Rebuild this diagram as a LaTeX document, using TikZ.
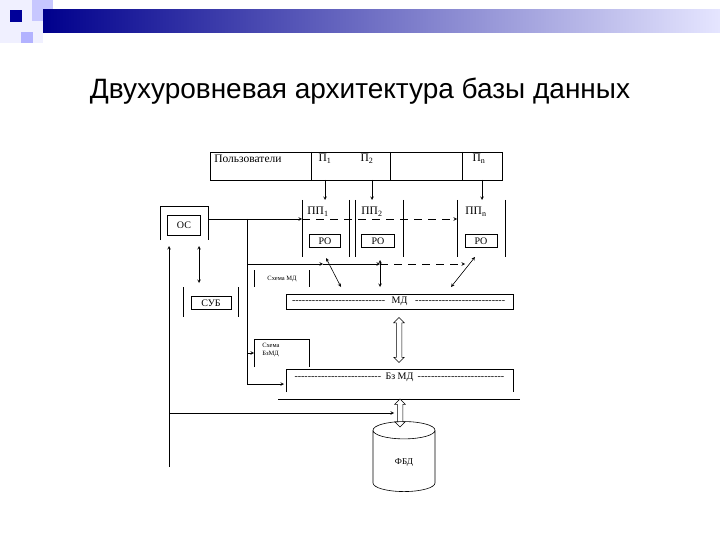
\documentclass[tikz,border=0pt]{standalone}
\usepackage{fontspec}
\setmainfont{Liberation Serif}
\newfontfamily\titlefont{Liberation Sans}
\usetikzlibrary{shapes.geometric,shapes.arrows,calc}
\newcommand{\hyphenfill}{\leaders\hbox{-}\hfill}
\tikzstyle{box} = [rectangle, draw=black, inner sep=0pt, font=\fontsize{10}{12}\selectfont]
\tikzstyle{txt} = [inner sep=0pt, font=\fontsize{11.5}{13}\selectfont]
\tikzstyle{tiny} = [inner sep=0pt, font=\fontsize{6.5}{7.5}\selectfont, align=left]
\tikzstyle{arrow} = [->,>=stealth]
\tikzstyle{dblarrow} = [<->,>=stealth]
\tikzstyle{longdash} = [dash pattern=on 8pt off 6pt]
\tikzstyle{hollow} = [double arrow, draw=black, fill=white, line width=0.5pt, rotate=90, inner sep=2.5pt, double arrow head extend=2.5pt]

\begin{document}
\begin{tikzpicture}[x=1pt,y=-1pt,line width=0.6pt]
  \useasboundingbox (0,0) rectangle (720,540);
  % slide header
  \fill[blue!6!white] (0,0) rectangle (43,43);
  \fill[blue!22!white] (32,0) rectangle (53,21);
  \fill[blue!30!white] (21,32) rectangle (33,43);
  \fill[blue!60!black] (10,10) rectangle (22,22);
  \shade[left color=blue!55!black, right color=blue!10!white] (43,10) rectangle (720,33);
  \node (title)[font=\titlefont\fontsize{28}{33}\selectfont] at (360,91) {Двухуровневая архитектура базы данных};

  % users
  \node (users)[box, minimum width=292, minimum height=28] at (356,166) {};
  \draw (311,152) -- (311,180);
  \draw (390,152) -- (390,180);
  \draw (462,152) -- (462,180);
  \node (uname)[txt, anchor=west] at (214,159) {Пользователи};
  \node (u1)[txt] at (325,159) {П\textsubscript{1}};
  \node (u2)[txt] at (367,159) {П\textsubscript{2}};
  \node (un)[txt] at (479,159) {П\textsubscript{n}};

  % applications
  \foreach \x in {302,349,355,403,457,505}
    \draw (\x,200) -- (\x,257);
  \node (pp1)[txt] at (318,212) {ПП\textsubscript{1}};
  \node (pp2)[txt] at (372,212) {ПП\textsubscript{2}};
  \node (ppn)[txt] at (476,212) {ПП\textsubscript{n}};
  \node (ro1)[box, minimum width=31, minimum height=13] at (325,241) {РО};
  \node (ro2)[box, minimum width=33, minimum height=13] at (378,241) {РО};
  \node (ron)[box, minimum width=32, minimum height=13] at (481,241) {РО};
  \coordinate (t1) at (325,180);
  \coordinate (t2) at (372,180);
  \coordinate (tn) at (482,180);
  \coordinate (a1) at (325,200);
  \coordinate (a2) at (372,200);
  \coordinate (an) at (482,200);
  \draw [arrow] (t1) -- (a1);
  \draw [arrow] (t2) -- (a2);
  \draw [arrow] (tn) -- (an);

  % OS and DBMS
  \draw (160,240) -- (160,206) -- (208,206) -- (208,240);
  \node (os)[box, minimum width=33, minimum height=20] at (184,225) {ОС};
  \draw (183,287) -- (183,317);
  \draw (238,287) -- (238,317);
  \node (dbms)[box, minimum width=40, minimum height=13] at (211,303) {СУБ};
  \coordinate (osr) at (208,219);
  \coordinate (c1) at (302,219);
  \coordinate (cn) at (457,219);
  \draw [arrow] (osr) -- (c1);
  \draw [arrow, longdash] (c1) -- (cn);
  \coordinate (s1) at (199,246);
  \coordinate (s2) at (199,283);
  \draw [dblarrow] (s1) -- (s2);
  \coordinate (f0) at (169,467);
  \coordinate (f1) at (169,246);
  \coordinate (f2) at (169,413);
  \coordinate (f3) at (394,413);
  \draw [arrow] (f0) -- (f1);
  \draw [arrow] (f2) -- (f3);

  % branch to schemes
  \coordinate (b0) at (247,219);
  \coordinate (b1) at (247,264);
  \coordinate (b2) at (323,264);
  \coordinate (b3) at (380,264);
  \coordinate (b4) at (465,264);
  \coordinate (b5) at (247,353);
  \coordinate (b6) at (254,353);
  \coordinate (b7) at (247,384);
  \coordinate (b8) at (284,384);
  \draw [arrow] (b0) -- (b7) -- (b8);
  \draw [arrow] (b1) -- (b2);
  \draw [arrow] (b2) -- (b3);
  \draw [arrow, longdash] (b3) -- (b4);
  \draw [arrow] (b5) -- (b6);

  % data model
  \draw (254,270) -- (254,287);
  \draw (309,270) -- (309,287);
  \node (mdscheme)[tiny] at (282,279) {Схема МД};
  \draw [dblarrow] (326,258) -- (341,287);
  \draw [dblarrow] (380,260) -- (380,287);
  \draw [dblarrow] (475,257) -- (451,287);
  \node (md)[box, minimum width=227, minimum height=15] at (399.5,301.5) {\makebox[215pt]{\hyphenfill\ \ МД\ \ \hyphenfill}};
  \node (h1)[hollow, minimum height=45] at (399,340) {};

  % external data model
  \draw (254,367) -- (254,339) -- (309,339) -- (309,367);
  \node (bzscheme)[tiny, anchor=north west] at (262,343) {Схема\\БзМД};
  \draw (286,392) -- (286,369) -- (513,369) -- (513,392);
  \draw (278,399) -- (520,399);
  \node (bzmd)[txt, font=\fontsize{10}{12}\selectfont] at (399.5,377) {\makebox[210pt]{\hyphenfill\ Бз МД\ \hyphenfill}};
  \node (h2)[hollow, minimum height=28] at (400,413) {};

  % database
  \node (fbd)[cylinder, draw, shape border rotate=90, aspect=0.7, minimum width=62, minimum height=70, font=\fontsize{9}{11}\selectfont] at (404,463) {ФБД};
\end{tikzpicture}
\end{document}
